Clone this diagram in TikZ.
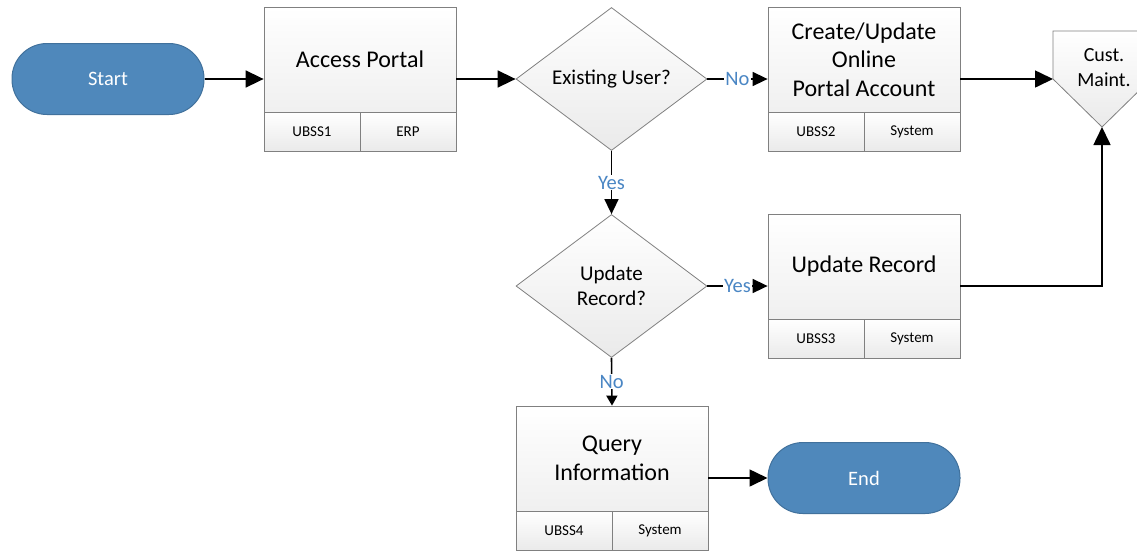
\documentclass[tikz,border=0pt]{standalone}
\usepackage{fontspec}
\setmainfont{Carlito}
\usetikzlibrary{arrows.meta,shapes.geometric}
\definecolor{sblue}{RGB}{79,136,187}
\definecolor{sborder}{RGB}{65,113,156}
\definecolor{lblue}{RGB}{74,134,196}
\definecolor{bgray}{RGB}{128,128,128}
\definecolor{bshade}{RGB}{234,234,234}
\newcommand{\pbox}[6]{%
  \node[procbox] (#1) at (#2,#3) {};
  \node[cell, anchor=south west] (#1-l) at (#1.south west) {#5};
  \node[cell, anchor=south east] (#1-r) at (#1.south east) {#6};
  \node[boxtext] (#1-t) at (#2,{#3-19.5}) {#4};
}
\begin{document}
\begin{tikzpicture}[x=1pt,y=-1pt,
  term/.style={rectangle, rounded corners=35pt, minimum width=192pt, minimum height=71pt,
    fill=sblue, draw=sborder, line width=1pt, text=white, font=\fontsize{20.5}{25}\selectfont},
  procbox/.style={rectangle, draw=bgray, line width=0.8pt, top color=white, bottom color=bshade,
    minimum width=192pt, minimum height=144pt, inner sep=0pt},
  cell/.style={rectangle, draw=bgray, line width=0.8pt, top color=white, bottom color=bshade,
    minimum width=96pt, minimum height=39pt, inner sep=0pt, font=\fontsize{15}{18}\selectfont},
  boxtext/.style={align=center, inner sep=0pt, font=\fontsize{24}{28.5}\selectfont},
  dec/.style={diamond, draw=bgray, line width=0.8pt, top color=white, bottom color=bshade,
    minimum width=191pt, minimum height=143pt, inner sep=0pt, align=center,
    font=\fontsize{21}{25}\selectfont},
  flow/.style={line width=1.6pt, -{Triangle[length=18pt,width=17pt]}},
  flowm/.style={line width=1.6pt, -{Triangle[length=15pt,width=14pt]}},
  flows/.style={line width=1.6pt, -{Triangle[length=10pt,width=11pt]}},
  lab/.style={text=lblue, fill=white, inner sep=1pt, font=\fontsize{20.5}{24}\selectfont}
]
\useasboundingbox (0,0) rectangle (1137,550);

\node[term] (start) at (108,79) {Start};
\pbox{ap}{360}{79}{Access Portal}{UBSS1}{ERP}
\node[dec] (d1) at (611.5,79) {Existing User?};
\pbox{cu}{864}{79}{Create/Update\\Online\\Portal Account}{UBSS2}{System}
\node[dec] (d2) at (611.5,286) {Update\\Record?};
\pbox{ur}{864}{286}{Update Record}{UBSS3}{System}
\pbox{qi}{612}{478}{Query\\Information}{UBSS4}{System}
\node[term] (end) at (864,478) {End};

% off-page reference
\path[draw=bgray, line width=0.8pt, top color=white, bottom color=bshade]
  (1053,31) -- (1151,31) -- (1151,79) -- (1102,127) -- (1053,79) -- cycle;
\coordinate (cmL) at (1053,79);
\coordinate (cmB) at (1102,127);
\node[align=center, inner sep=0pt, font=\fontsize{20}{25}\selectfont] (cm) at (1104,67.5) {Cust.\\Maint.};

\draw[flow] (start) -- (ap);
\draw[flow] (ap) -- (d1);
\draw[flowm] (d1.east) -- node[lab] {No} (cu.west);
\draw[flowm] (d1.south) -- node[lab] {Yes} (d2.north);
\draw[flowm] (d2.east) -- node[lab] {Yes} (ur.west);
\draw[flows] (d2.south) -- node[lab] {No} (qi.north);
\draw[flow] (qi) -- (end);
\draw[flow] (cu.east) -- (cmL);
\draw[flow] (ur.east) -| (cmB);
\end{tikzpicture}
\end{document}
